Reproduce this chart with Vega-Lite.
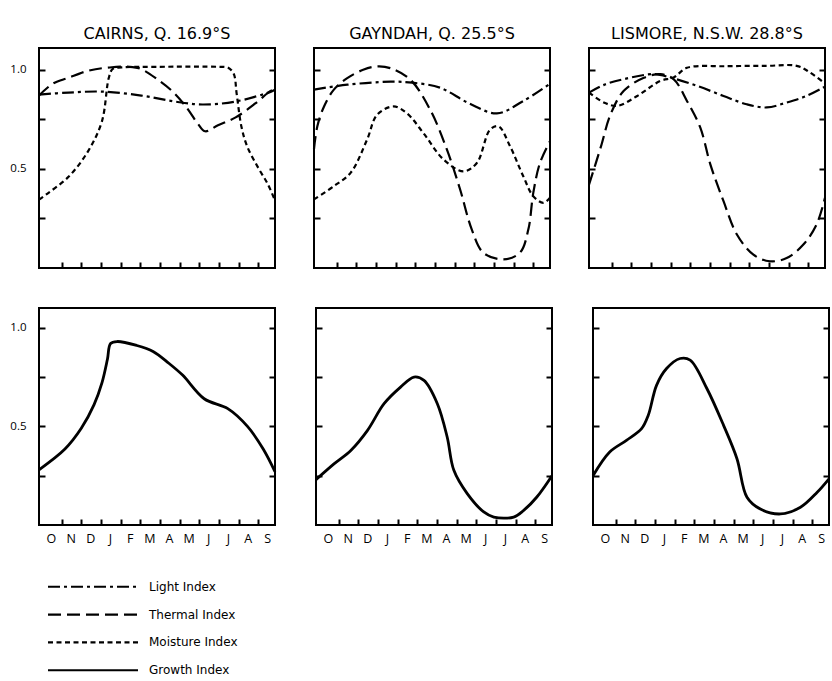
{
  "$schema": "https://vega.github.io/schema/vega-lite/v6.json",
  "background": "white",
  "padding": {"top": 25, "left": 8, "right": 0, "bottom": 0},
  "datasets": {
    "d": [
      {"s":"Cairns","i":"Light Index","m":0,"v":0.875},{"s":"Cairns","i":"Light Index","m":1.5,"v":0.885},{"s":"Cairns","i":"Light Index","m":3.2,"v":0.89},{"s":"Cairns","i":"Light Index","m":5.2,"v":0.87},{"s":"Cairns","i":"Light Index","m":6.9,"v":0.84},{"s":"Cairns","i":"Light Index","m":8.3,"v":0.825},{"s":"Cairns","i":"Light Index","m":10,"v":0.84},{"s":"Cairns","i":"Light Index","m":11.8,"v":0.89},{"s":"Cairns","i":"Light Index","m":12,"v":0.9},
      {"s":"Cairns","i":"Thermal Index","m":0,"v":0.87},{"s":"Cairns","i":"Thermal Index","m":0.7,"v":0.93},{"s":"Cairns","i":"Thermal Index","m":1.5,"v":0.96},{"s":"Cairns","i":"Thermal Index","m":2.5,"v":0.995},{"s":"Cairns","i":"Thermal Index","m":3.4,"v":1.01},{"s":"Cairns","i":"Thermal Index","m":5,"v":1.01},{"s":"Cairns","i":"Thermal Index","m":6.1,"v":0.946},{"s":"Cairns","i":"Thermal Index","m":6.9,"v":0.88},{"s":"Cairns","i":"Thermal Index","m":7.5,"v":0.81},{"s":"Cairns","i":"Thermal Index","m":8.1,"v":0.725},{"s":"Cairns","i":"Thermal Index","m":8.45,"v":0.69},{"s":"Cairns","i":"Thermal Index","m":9.1,"v":0.72},{"s":"Cairns","i":"Thermal Index","m":10,"v":0.76},{"s":"Cairns","i":"Thermal Index","m":11,"v":0.83},{"s":"Cairns","i":"Thermal Index","m":11.8,"v":0.895},{"s":"Cairns","i":"Thermal Index","m":12,"v":0.9},
      {"s":"Cairns","i":"Moisture Index","m":0,"v":0.345},{"s":"Cairns","i":"Moisture Index","m":0.35,"v":0.37},{"s":"Cairns","i":"Moisture Index","m":1.5,"v":0.46},{"s":"Cairns","i":"Moisture Index","m":2.5,"v":0.59},{"s":"Cairns","i":"Moisture Index","m":3.2,"v":0.74},{"s":"Cairns","i":"Moisture Index","m":3.55,"v":0.96},{"s":"Cairns","i":"Moisture Index","m":3.75,"v":1.005},{"s":"Cairns","i":"Moisture Index","m":4.2,"v":1.012},{"s":"Cairns","i":"Moisture Index","m":6,"v":1.015},{"s":"Cairns","i":"Moisture Index","m":9.2,"v":1.015},{"s":"Cairns","i":"Moisture Index","m":9.6,"v":1.012},{"s":"Cairns","i":"Moisture Index","m":9.9,"v":0.98},{"s":"Cairns","i":"Moisture Index","m":10.05,"v":0.88},{"s":"Cairns","i":"Moisture Index","m":10.3,"v":0.71},{"s":"Cairns","i":"Moisture Index","m":10.6,"v":0.61},{"s":"Cairns","i":"Moisture Index","m":11.15,"v":0.505},{"s":"Cairns","i":"Moisture Index","m":11.65,"v":0.42},{"s":"Cairns","i":"Moisture Index","m":12,"v":0.34},
      {"s":"Cairns","i":"Growth Index","m":0,"v":0.28},{"s":"Cairns","i":"Growth Index","m":1.32,"v":0.385},{"s":"Cairns","i":"Growth Index","m":2.15,"v":0.49},{"s":"Cairns","i":"Growth Index","m":2.8,"v":0.61},{"s":"Cairns","i":"Growth Index","m":3.2,"v":0.72},{"s":"Cairns","i":"Growth Index","m":3.48,"v":0.84},{"s":"Cairns","i":"Growth Index","m":3.64,"v":0.92},{"s":"Cairns","i":"Growth Index","m":3.97,"v":0.93},{"s":"Cairns","i":"Growth Index","m":4.97,"v":0.91},{"s":"Cairns","i":"Growth Index","m":5.8,"v":0.88},{"s":"Cairns","i":"Growth Index","m":6.6,"v":0.82},{"s":"Cairns","i":"Growth Index","m":7.3,"v":0.76},{"s":"Cairns","i":"Growth Index","m":8.4,"v":0.64},{"s":"Cairns","i":"Growth Index","m":9.6,"v":0.59},{"s":"Cairns","i":"Growth Index","m":10.6,"v":0.5},{"s":"Cairns","i":"Growth Index","m":11.4,"v":0.385},{"s":"Cairns","i":"Growth Index","m":12,"v":0.27},
      {"s":"Gayndah","i":"Light Index","m":0,"v":0.9},{"s":"Gayndah","i":"Light Index","m":1.7,"v":0.925},{"s":"Gayndah","i":"Light Index","m":3.9,"v":0.94},{"s":"Gayndah","i":"Light Index","m":5,"v":0.935},{"s":"Gayndah","i":"Light Index","m":6.4,"v":0.91},{"s":"Gayndah","i":"Light Index","m":7.9,"v":0.83},{"s":"Gayndah","i":"Light Index","m":9.3,"v":0.78},{"s":"Gayndah","i":"Light Index","m":10.6,"v":0.84},{"s":"Gayndah","i":"Light Index","m":12,"v":0.93},
      {"s":"Gayndah","i":"Thermal Index","m":0,"v":0.6},{"s":"Gayndah","i":"Thermal Index","m":0.17,"v":0.715},{"s":"Gayndah","i":"Thermal Index","m":0.51,"v":0.815},{"s":"Gayndah","i":"Thermal Index","m":1.01,"v":0.9},{"s":"Gayndah","i":"Thermal Index","m":1.69,"v":0.958},{"s":"Gayndah","i":"Thermal Index","m":2.5,"v":1.0},{"s":"Gayndah","i":"Thermal Index","m":3.2,"v":1.017},{"s":"Gayndah","i":"Thermal Index","m":3.89,"v":1.008},{"s":"Gayndah","i":"Thermal Index","m":4.9,"v":0.95},{"s":"Gayndah","i":"Thermal Index","m":5.9,"v":0.8},{"s":"Gayndah","i":"Thermal Index","m":6.76,"v":0.597},{"s":"Gayndah","i":"Thermal Index","m":7.43,"v":0.396},{"s":"Gayndah","i":"Thermal Index","m":8.02,"v":0.195},{"s":"Gayndah","i":"Thermal Index","m":8.61,"v":0.077},{"s":"Gayndah","i":"Thermal Index","m":9.63,"v":0.044},{"s":"Gayndah","i":"Thermal Index","m":10.47,"v":0.077},{"s":"Gayndah","i":"Thermal Index","m":10.9,"v":0.195},{"s":"Gayndah","i":"Thermal Index","m":11.15,"v":0.379},{"s":"Gayndah","i":"Thermal Index","m":11.49,"v":0.53},{"s":"Gayndah","i":"Thermal Index","m":12,"v":0.64},
      {"s":"Gayndah","i":"Moisture Index","m":0,"v":0.346},{"s":"Gayndah","i":"Moisture Index","m":1.01,"v":0.413},{"s":"Gayndah","i":"Moisture Index","m":1.86,"v":0.48},{"s":"Gayndah","i":"Moisture Index","m":2.7,"v":0.648},{"s":"Gayndah","i":"Moisture Index","m":3.21,"v":0.773},{"s":"Gayndah","i":"Moisture Index","m":4.05,"v":0.815},{"s":"Gayndah","i":"Moisture Index","m":4.73,"v":0.78},{"s":"Gayndah","i":"Moisture Index","m":5.57,"v":0.68},{"s":"Gayndah","i":"Moisture Index","m":6.59,"v":0.547},{"s":"Gayndah","i":"Moisture Index","m":7.6,"v":0.488},{"s":"Gayndah","i":"Moisture Index","m":8.28,"v":0.53},{"s":"Gayndah","i":"Moisture Index","m":8.95,"v":0.698},{"s":"Gayndah","i":"Moisture Index","m":9.38,"v":0.715},{"s":"Gayndah","i":"Moisture Index","m":9.97,"v":0.614},{"s":"Gayndah","i":"Moisture Index","m":10.64,"v":0.463},{"s":"Gayndah","i":"Moisture Index","m":11.15,"v":0.362},{"s":"Gayndah","i":"Moisture Index","m":11.66,"v":0.329},{"s":"Gayndah","i":"Moisture Index","m":12,"v":0.354},
      {"s":"Gayndah","i":"Growth Index","m":0,"v":0.23},{"s":"Gayndah","i":"Growth Index","m":0.93,"v":0.311},{"s":"Gayndah","i":"Growth Index","m":1.77,"v":0.378},{"s":"Gayndah","i":"Growth Index","m":2.62,"v":0.48},{"s":"Gayndah","i":"Growth Index","m":3.46,"v":0.615},{"s":"Gayndah","i":"Growth Index","m":4.3,"v":0.699},{"s":"Gayndah","i":"Growth Index","m":4.98,"v":0.75},{"s":"Gayndah","i":"Growth Index","m":5.49,"v":0.733},{"s":"Gayndah","i":"Growth Index","m":6.17,"v":0.615},{"s":"Gayndah","i":"Growth Index","m":6.67,"v":0.446},{"s":"Gayndah","i":"Growth Index","m":7.01,"v":0.277},{"s":"Gayndah","i":"Growth Index","m":7.69,"v":0.159},{"s":"Gayndah","i":"Growth Index","m":8.53,"v":0.066},{"s":"Gayndah","i":"Growth Index","m":9.04,"v":0.04},{"s":"Gayndah","i":"Growth Index","m":10.05,"v":0.04},{"s":"Gayndah","i":"Growth Index","m":10.56,"v":0.074},{"s":"Gayndah","i":"Growth Index","m":11.23,"v":0.142},{"s":"Gayndah","i":"Growth Index","m":12,"v":0.25},
      {"s":"Lismore","i":"Light Index","m":0,"v":0.885},{"s":"Lismore","i":"Light Index","m":0.76,"v":0.924},{"s":"Lismore","i":"Light Index","m":1.77,"v":0.953},{"s":"Lismore","i":"Light Index","m":3.29,"v":0.978},{"s":"Lismore","i":"Light Index","m":4.14,"v":0.961},{"s":"Lismore","i":"Light Index","m":5.49,"v":0.919},{"s":"Lismore","i":"Light Index","m":6.84,"v":0.868},{"s":"Lismore","i":"Light Index","m":8.02,"v":0.826},{"s":"Lismore","i":"Light Index","m":9.04,"v":0.81},{"s":"Lismore","i":"Light Index","m":10.05,"v":0.835},{"s":"Lismore","i":"Light Index","m":11.06,"v":0.868},{"s":"Lismore","i":"Light Index","m":12,"v":0.915},
      {"s":"Lismore","i":"Thermal Index","m":0,"v":0.42},{"s":"Lismore","i":"Thermal Index","m":0.59,"v":0.607},{"s":"Lismore","i":"Thermal Index","m":1.1,"v":0.776},{"s":"Lismore","i":"Thermal Index","m":1.77,"v":0.894},{"s":"Lismore","i":"Thermal Index","m":2.79,"v":0.96},{"s":"Lismore","i":"Thermal Index","m":3.63,"v":0.978},{"s":"Lismore","i":"Thermal Index","m":4.3,"v":0.953},{"s":"Lismore","i":"Thermal Index","m":4.98,"v":0.843},{"s":"Lismore","i":"Thermal Index","m":5.66,"v":0.708},{"s":"Lismore","i":"Thermal Index","m":6.17,"v":0.523},{"s":"Lismore","i":"Thermal Index","m":6.84,"v":0.337},{"s":"Lismore","i":"Thermal Index","m":7.52,"v":0.169},{"s":"Lismore","i":"Thermal Index","m":8.36,"v":0.067},{"s":"Lismore","i":"Thermal Index","m":9.2,"v":0.034},{"s":"Lismore","i":"Thermal Index","m":10.05,"v":0.05},{"s":"Lismore","i":"Thermal Index","m":10.9,"v":0.118},{"s":"Lismore","i":"Thermal Index","m":11.57,"v":0.219},{"s":"Lismore","i":"Thermal Index","m":12,"v":0.354},
      {"s":"Lismore","i":"Moisture Index","m":0,"v":0.885},{"s":"Lismore","i":"Moisture Index","m":0.76,"v":0.835},{"s":"Lismore","i":"Moisture Index","m":1.44,"v":0.818},{"s":"Lismore","i":"Moisture Index","m":2.45,"v":0.868},{"s":"Lismore","i":"Moisture Index","m":3.63,"v":0.944},{"s":"Lismore","i":"Moisture Index","m":4.3,"v":0.961},{"s":"Lismore","i":"Moisture Index","m":4.98,"v":1.01},{"s":"Lismore","i":"Moisture Index","m":7,"v":1.018},{"s":"Lismore","i":"Moisture Index","m":9,"v":1.02},{"s":"Lismore","i":"Moisture Index","m":10.56,"v":1.02},{"s":"Lismore","i":"Moisture Index","m":11.23,"v":0.987},{"s":"Lismore","i":"Moisture Index","m":12,"v":0.93},
      {"s":"Lismore","i":"Growth Index","m":0,"v":0.25},{"s":"Lismore","i":"Growth Index","m":0.85,"v":0.37},{"s":"Lismore","i":"Growth Index","m":1.7,"v":0.429},{"s":"Lismore","i":"Growth Index","m":2.47,"v":0.488},{"s":"Lismore","i":"Growth Index","m":2.81,"v":0.556},{"s":"Lismore","i":"Growth Index","m":3.23,"v":0.708},{"s":"Lismore","i":"Growth Index","m":3.74,"v":0.793},{"s":"Lismore","i":"Growth Index","m":4.43,"v":0.844},{"s":"Lismore","i":"Growth Index","m":4.94,"v":0.836},{"s":"Lismore","i":"Growth Index","m":5.79,"v":0.692},{"s":"Lismore","i":"Growth Index","m":6.64,"v":0.505},{"s":"Lismore","i":"Growth Index","m":7.32,"v":0.336},{"s":"Lismore","i":"Growth Index","m":7.83,"v":0.141},{"s":"Lismore","i":"Growth Index","m":8.51,"v":0.081},{"s":"Lismore","i":"Growth Index","m":9.53,"v":0.056},{"s":"Lismore","i":"Growth Index","m":10.55,"v":0.09},{"s":"Lismore","i":"Growth Index","m":11.4,"v":0.166},{"s":"Lismore","i":"Growth Index","m":12,"v":0.234}
    ],
    "leg": [{"i":"Light Index"},{"i":"Thermal Index"},{"i":"Moisture Index"},{"i":"Growth Index"}]
  },
  "vconcat": [
    {
      "vconcat": [
        {
          "hconcat": [
            {
              "width": 236, "height": 220,
              "title": "CAIRNS, Q. 16.9°S",
              "data": {"name": "d"},
              "transform": [{"filter": "datum.s == 'Cairns' && datum.i != 'Growth Index'"}],
              "layer": [
                {"mark": {"type": "line", "interpolate": "catmull-rom", "strokeWidth": 2.2, "color": "black"},
                 "encoding": {
                   "x": {"field": "m", "type": "quantitative", "scale": {"domain": [0, 12], "nice": false}, "axis": {"values": [1.15,2.15,3.15,4.15,5.15,6.15,7.15,8.15,9.15,10.15,11.15], "labels": false, "title": null}},
                   "y": {"field": "v", "type": "quantitative", "scale": {"domain": [0, 1.11], "nice": false}, "axis": {"orient": "left", "values": [0.25,0.5,0.75,1], "labelExpr": "datum.value == 0.5 || datum.value == 1 ? format(datum.value, '.1f') : ''", "title": null}},
                   "strokeDash": {"field": "i", "type": "nominal", "scale": {"domain": ["Light Index","Thermal Index","Moisture Index","Growth Index"], "range": [[12,4,3,4],[13,6],[5,3.5],[1,0]]}, "legend": null}
                 }},
                {"mark": {"type": "rule", "opacity": 0},
                 "encoding": {
                   "y": {"field": "v", "type": "quantitative", "scale": {"domain": [0, 1.11], "nice": false}, "axis": {"orient": "right", "values": [0.25,0.5,0.75,1], "labels": false, "title": null}}
                 }}
              ],
              "resolve": {"scale": {"y": "independent"}, "axis": {"y": "independent"}}
            },
            {
              "width": 236, "height": 220,
              "title": "GAYNDAH, Q. 25.5°S",
              "data": {"name": "d"},
              "transform": [{"filter": "datum.s == 'Gayndah' && datum.i != 'Growth Index'"}],
              "layer": [
                {"mark": {"type": "line", "interpolate": "catmull-rom", "strokeWidth": 2.2, "color": "black"},
                 "encoding": {
                   "x": {"field": "m", "type": "quantitative", "scale": {"domain": [0, 12], "nice": false}, "axis": {"values": [1.15,2.15,3.15,4.15,5.15,6.15,7.15,8.15,9.15,10.15,11.15], "labels": false, "title": null}},
                   "y": {"field": "v", "type": "quantitative", "scale": {"domain": [0, 1.11], "nice": false}, "axis": {"orient": "left", "values": [0.25,0.5,0.75,1], "labels": false, "title": null}},
                   "strokeDash": {"field": "i", "type": "nominal", "scale": {"domain": ["Light Index","Thermal Index","Moisture Index","Growth Index"], "range": [[12,4,3,4],[13,6],[5,3.5],[1,0]]}, "legend": null}
                 }},
                {"mark": {"type": "rule", "opacity": 0},
                 "encoding": {
                   "y": {"field": "v", "type": "quantitative", "scale": {"domain": [0, 1.11], "nice": false}, "axis": {"orient": "right", "values": [0.25,0.5,0.75,1], "labels": false, "title": null}}
                 }}
              ],
              "resolve": {"scale": {"y": "independent"}, "axis": {"y": "independent"}}
            },
            {
              "width": 236, "height": 220,
              "title": "LISMORE, N.S.W. 28.8°S",
              "data": {"name": "d"},
              "transform": [{"filter": "datum.s == 'Lismore' && datum.i != 'Growth Index'"}],
              "layer": [
                {"mark": {"type": "line", "interpolate": "catmull-rom", "strokeWidth": 2.2, "color": "black"},
                 "encoding": {
                   "x": {"field": "m", "type": "quantitative", "scale": {"domain": [0, 12], "nice": false}, "axis": {"values": [1.15,2.15,3.15,4.15,5.15,6.15,7.15,8.15,9.15,10.15,11.15], "labels": false, "title": null}},
                   "y": {"field": "v", "type": "quantitative", "scale": {"domain": [0, 1.11], "nice": false}, "axis": {"orient": "left", "values": [0.25,0.5,0.75,1], "labels": false, "title": null}},
                   "strokeDash": {"field": "i", "type": "nominal", "scale": {"domain": ["Light Index","Thermal Index","Moisture Index","Growth Index"], "range": [[12,4,3,4],[13,6],[5,3.5],[1,0]]}, "legend": null}
                 }},
                {"mark": {"type": "rule", "opacity": 0},
                 "encoding": {
                   "y": {"field": "v", "type": "quantitative", "scale": {"domain": [0, 1.11], "nice": false}, "axis": {"orient": "right", "values": [0.25,0.5,0.75,1], "labels": false, "title": null}}
                 }}
              ],
              "resolve": {"scale": {"y": "independent"}, "axis": {"y": "independent"}}
            }
          ]
        },
        {
          "hconcat": [
            {
              "width": 236, "height": 217,
              "data": {"name": "d"},
              "transform": [{"filter": "datum.s == 'Cairns' && datum.i == 'Growth Index'"}],
              "layer": [
                {"mark": {"type": "line", "interpolate": "catmull-rom", "strokeWidth": 2.8, "color": "black"},
                 "encoding": {
                   "x": {"field": "m", "type": "quantitative", "scale": {"domain": [0, 12], "nice": false}, "axis": {"values": [0.15,1.15,2.15,3.15,4.15,5.15,6.15,7.15,8.15,9.15,10.15,11.15], "labelExpr": "['O','N','D','J','F','M','A','M','J','J','A','S'][round(datum.value - 0.15)]", "labelOffset": 9, "tickOpacity": {"condition": {"test": "datum.value < 1", "value": 0}, "value": 1}, "title": null}},
                   "y": {"field": "v", "type": "quantitative", "scale": {"domain": [0, 1.1], "nice": false}, "axis": {"orient": "left", "values": [0.25,0.5,0.75,1], "labelExpr": "datum.value == 0.5 || datum.value == 1 ? format(datum.value, '.1f') : ''", "title": null}}
                 }},
                {"mark": {"type": "rule", "opacity": 0},
                 "encoding": {
                   "y": {"field": "v", "type": "quantitative", "scale": {"domain": [0, 1.1], "nice": false}, "axis": {"orient": "right", "values": [0.25,0.5,0.75,1], "labels": false, "title": null}}
                 }}
              ],
              "resolve": {"scale": {"y": "independent"}, "axis": {"y": "independent"}}
            },
            {
              "width": 236, "height": 217,
              "data": {"name": "d"},
              "transform": [{"filter": "datum.s == 'Gayndah' && datum.i == 'Growth Index'"}],
              "layer": [
                {"mark": {"type": "line", "interpolate": "catmull-rom", "strokeWidth": 2.8, "color": "black"},
                 "encoding": {
                   "x": {"field": "m", "type": "quantitative", "scale": {"domain": [0, 12], "nice": false}, "axis": {"values": [0.15,1.15,2.15,3.15,4.15,5.15,6.15,7.15,8.15,9.15,10.15,11.15], "labelExpr": "['O','N','D','J','F','M','A','M','J','J','A','S'][round(datum.value - 0.15)]", "labelOffset": 9, "tickOpacity": {"condition": {"test": "datum.value < 1", "value": 0}, "value": 1}, "title": null}},
                   "y": {"field": "v", "type": "quantitative", "scale": {"domain": [0, 1.1], "nice": false}, "axis": {"orient": "left", "values": [0.25,0.5,0.75,1], "labels": false, "title": null}}
                 }},
                {"mark": {"type": "rule", "opacity": 0},
                 "encoding": {
                   "y": {"field": "v", "type": "quantitative", "scale": {"domain": [0, 1.1], "nice": false}, "axis": {"orient": "right", "values": [0.25,0.5,0.75,1], "labels": false, "title": null}}
                 }}
              ],
              "resolve": {"scale": {"y": "independent"}, "axis": {"y": "independent"}}
            },
            {
              "width": 236, "height": 217,
              "data": {"name": "d"},
              "transform": [{"filter": "datum.s == 'Lismore' && datum.i == 'Growth Index'"}],
              "layer": [
                {"mark": {"type": "line", "interpolate": "catmull-rom", "strokeWidth": 2.8, "color": "black"},
                 "encoding": {
                   "x": {"field": "m", "type": "quantitative", "scale": {"domain": [0, 12], "nice": false}, "axis": {"values": [0.15,1.15,2.15,3.15,4.15,5.15,6.15,7.15,8.15,9.15,10.15,11.15], "labelExpr": "['O','N','D','J','F','M','A','M','J','J','A','S'][round(datum.value - 0.15)]", "labelOffset": 9, "tickOpacity": {"condition": {"test": "datum.value < 1", "value": 0}, "value": 1}, "title": null}},
                   "y": {"field": "v", "type": "quantitative", "scale": {"domain": [0, 1.1], "nice": false}, "axis": {"orient": "left", "values": [0.25,0.5,0.75,1], "labels": false, "title": null}}
                 }},
                {"mark": {"type": "rule", "opacity": 0},
                 "encoding": {
                   "y": {"field": "v", "type": "quantitative", "scale": {"domain": [0, 1.1], "nice": false}, "axis": {"orient": "right", "values": [0.25,0.5,0.75,1], "labels": false, "title": null}}
                 }}
              ],
              "resolve": {"scale": {"y": "independent"}, "axis": {"y": "independent"}}
            }
          ]
        }
      ],
      "spacing": 37
    },
    {
      "width": 200, "height": 103,
      "view": {"stroke": null},
      "data": {"name": "leg"},
      "layer": [
        {"mark": {"type": "rule", "strokeWidth": 2.2, "color": "black"},
         "encoding": {
           "x": {"datum": 0.045, "type": "quantitative", "scale": {"domain": [0, 1], "nice": false}, "axis": null},
           "x2": {"datum": 0.495},
           "y": {"field": "i", "type": "nominal", "scale": {"type": "point", "padding": 0.35, "domain": ["Light Index","Thermal Index","Moisture Index","Growth Index"]}, "axis": null},
           "strokeDash": {"field": "i", "type": "nominal", "scale": {"domain": ["Light Index","Thermal Index","Moisture Index","Growth Index"], "range": [[12,4,3,4],[13,6],[5,3.5],[1,0]]}, "legend": null}
         }},
        {"mark": {"type": "text", "align": "left", "baseline": "middle", "fontSize": 12, "font": "DejaVu Sans", "color": "black"},
         "encoding": {
           "x": {"datum": 0.55, "type": "quantitative"},
           "y": {"field": "i", "type": "nominal"},
           "text": {"field": "i"}
         }}
      ]
    }
  ],
  "spacing": 31,
  "config": {
    "view": {"stroke": "black", "strokeWidth": 2},
    "concat": {"spacing": 27},
    "axis": {"domain": false, "grid": false, "tickColor": "black", "tickWidth": 2, "tickSize": -6, "labelFont": "Open Sans", "labelColor": "black", "labelFlush": false},
    "axisX": {"labelFontSize": 12.5, "labelPadding": 13},
    "axisY": {"labelFontSize": 11.5, "labelPadding": 19},
    "title": {"font": "DejaVu Sans", "fontSize": 16, "fontWeight": "normal", "color": "black", "offset": 6}
  }
}
